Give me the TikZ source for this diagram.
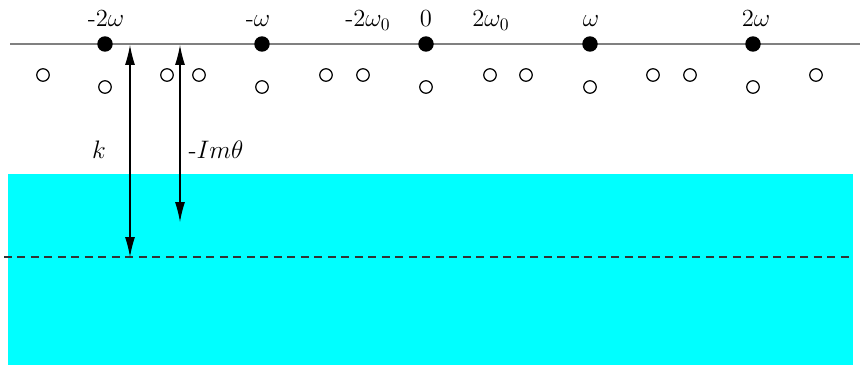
\documentclass[tikz,border=0pt]{standalone}
\usepackage{amsmath}
\usepackage{tikz}
\usetikzlibrary{positioning}
\usetikzlibrary{arrows.meta}
\definecolor{stripColor}{rgb}{0,1,1}
\definecolor{axisColor}{rgb}{0.5,0.5,0.5}

\begin{document}
\begin{tikzpicture}[x=0.02cm,y=-0.02cm,font=\fontsize{14}{17}\selectfont]

          \tikzstyle{fullPole} = [circle,fill=black,inner sep=0pt,minimum size=3.1mm];
          \tikzstyle{emptyPole} = [circle,draw=black,line width=0.7pt,inner sep=0pt,minimum size=2.5mm];
          \tikzstyle{gapArrow} = [line width=0.6pt,{Latex[length=4mm,width=2mm]}-{Latex[length=4mm,width=2mm]}];

          \useasboundingbox (0,0) rectangle (860,365);

          % strip and its lower line
          \fill[stripColor] (8,174) rectangle (853,365);
          \coordinate (dl) at (4,257);
          \coordinate (dr) at (853,257);
          \draw[line width=0.8pt,dash pattern=on 1.6mm off 1.1mm,black!80] (dl) -- (dr);

          % real axis
          \coordinate (al) at (10,44);
          \coordinate (ar) at (860,44);
          \draw[axisColor,line width=1pt] (al) -- (ar);

          \node[fullPole] (m2w) at (105,44) {};
          \node[fullPole] (m1w) at (262,44) {};
          \node[fullPole] (zero) at (426,44) {};
          \node[fullPole] (p1w) at (590,44) {};
          \node[fullPole] (p2w) at (753,44) {};

          \node[anchor=base] at (106,27) {-2$\omega$};
          \node[anchor=base] at (258,27) {-$\omega$};
          \node[anchor=base] at (368,27) {-2$\omega_0$};
          \node[anchor=base] at (426,27) {0};
          \node[anchor=base] at (491,27) {2$\omega_0$};
          \node[anchor=base] at (591,27) {$\omega$};
          \node[anchor=base] at (756,27) {2$\omega$};

          % poles below the axis
          \foreach \x [count=\i] in {43,167,199,326,363,490,526,653,690,816}
            \node[emptyPole] (u\i) at (\x,75) {};
          \foreach \x [count=\i] in {105,262,426,590,753}
            \node[emptyPole] (v\i) at (\x,87) {};

          % distances
          \coordinate (kt) at (130,45);
          \coordinate (kb) at (130,257);
          \coordinate (it) at (180,45);
          \coordinate (ib) at (180,222);
          \draw[gapArrow] (kt) -- (kb);
          \draw[gapArrow] (it) -- (ib);
          \node (k) at (99,150) {$k$};
          \node (imt) at (216,150) {-$Im\theta$};
        \end{tikzpicture}
\end{document}
